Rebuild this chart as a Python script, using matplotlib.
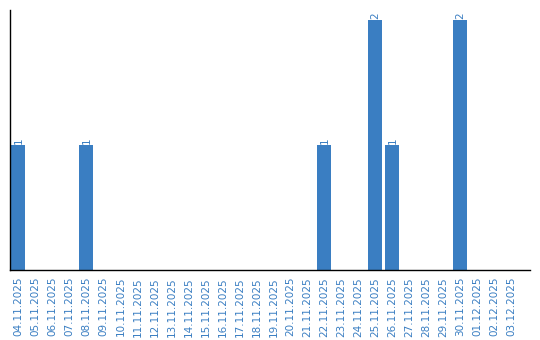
import matplotlib
matplotlib.use("Agg")
import matplotlib.pyplot as plt
import numpy as np

# Daten
dates = ["04.11.2025", "05.11.2025", "06.11.2025", "07.11.2025", "08.11.2025",
         "09.11.2025", "10.11.2025", "11.11.2025", "12.11.2025", "13.11.2025",
         "14.11.2025", "15.11.2025", "16.11.2025", "17.11.2025", "18.11.2025",
         "19.11.2025", "20.11.2025", "21.11.2025", "22.11.2025", "23.11.2025",
         "24.11.2025", "25.11.2025", "26.11.2025", "27.11.2025", "28.11.2025",
         "29.11.2025", "30.11.2025", "01.12.2025", "02.12.2025", "03.12.2025"]
counts = [1, 0, 0, 0, 1, 0, 0, 0, 0, 0, 0, 0, 0, 0, 0,
          0, 0, 0, 1, 0, 0, 2, 1, 0, 0, 0, 2, 0, 0, 0]

blue = "#3a7ec2"

fig = plt.figure(figsize=(5.4, 3.4), dpi=100)
ax = fig.add_axes([10 / 540, 70 / 340, 520 / 540, 260 / 340])

x = np.arange(len(dates))
ax.bar(x, counts, width=14 / 17, color=blue)

# Werte über den Balken
for xi, c in zip(x, counts):
    if c > 0:
        ax.text(xi, c + 0.01, str(c), rotation=90, ha="center", va="bottom",
                fontsize=7.5, color=blue)

ax.set_xlim(-0.5, 30.1)
ax.set_ylim(0, 2.08)
ax.set_xticks(x)
ax.set_xticklabels(dates, rotation=90, fontsize=7.5, color=blue)
ax.tick_params(axis="x", length=0, pad=5)
ax.set_yticks([])

ax.spines["top"].set_visible(False)
ax.spines["right"].set_visible(False)
ax.spines["left"].set_linewidth(1.0)
ax.spines["bottom"].set_linewidth(1.0)

fig.savefig("out.png", dpi=100)
